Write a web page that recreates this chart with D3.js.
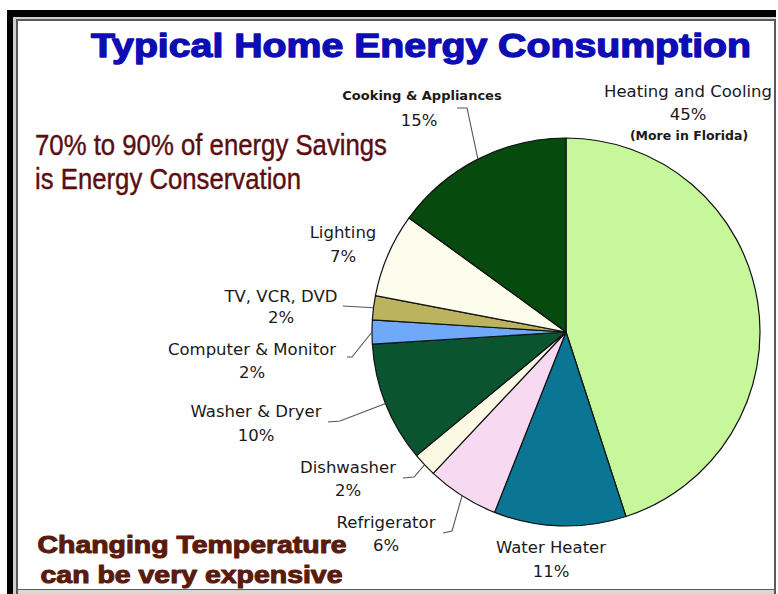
<!DOCTYPE html>
<html><head><meta charset="utf-8">
<script src="https://cdn.jsdelivr.net/npm/d3@7"></script>
<style>html,body{margin:0;padding:0;background:#fff;}svg{display:block;}</style>
</head><body>
<svg id="chart" width="778" height="594"></svg>
<script>
// ---- data ----
const categories = ["Heating and Cooling","Water Heater","Refrigerator","Dishwasher","Washer & Dryer","Computer & Monitor","TV, VCR, DVD","Lighting","Cooking & Appliances"];
const values = [45, 11, 6, 2, 10, 2, 2, 7, 15];
const percentLabels = ["45%","11%","6%","2%","10%","2%","2%","7%","15%"];
const colors = ["#c6f79a","#0b7594","#f8d9f2","#fbf9e4","#0a5430","#6fa9f7","#bcb35e","#fdfdee","#064a0e"];
const titleText = "Typical Home Energy Consumption";
const noteLines = ["70% to 90% of energy Savings","is Energy Conservation"];
const footLines = ["Changing Temperature","can be very expensive"];
const heatingNote = "(More in Florida)";

// ---- layout (positions, not data) ----
const cx = 566, cy = 332, R = 194;
const layout = {
  "Heating and Cooling": {x:688, y1:97, y2:120, bold:false, leader:null},
  "Water Heater": {x:551, y1:553, y2:577, leader:null},
  "Refrigerator": {x:386, y1:528, y2:551, leader:[[443,533],[452,531]]},
  "Dishwasher": {x:348, y1:473, y2:496, leader:[[403,478],[414,477]]},
  "Washer & Dryer": {x:256, y1:417, y2:441, leader:[[328,422],[340,421]]},
  "Computer & Monitor": {x:252, y1:355, y2:378, leader:[[347,357],[352,357]]},
  "TV, VCR, DVD": {x:281, y1:302, y2:323, leader:[[343,306]]},
  "Lighting": {x:343, y1:238, y2:262, leader:null},
  "Cooking & Appliances": {x:422, y1:100, y2:126, bold:true, pctX:419, leader:[[457,108],[467,108]]}
};

const svg = d3.select("#chart");

// frame
svg.append("rect").attr("x",7).attr("y",10).attr("width",769).attr("height",584).attr("fill","#000");
svg.append("rect").attr("x",13).attr("y",17).attr("width",763).attr("height",577).attr("fill","#cfcfcf");
svg.append("rect").attr("x",16).attr("y",19).attr("width",760).attr("height",575).attr("fill","#5a5a5a");
svg.append("rect").attr("x",18).attr("y",21).attr("width",756).attr("height",568).attr("fill","#fff");
svg.append("rect").attr("x",18).attr("y",590).attr("width",756).attr("height",4).attr("fill","#d8d8d8");

// title
svg.append("text").attr("x",421).attr("y",57).attr("text-anchor","middle")
  .attr("font-family","'Liberation Sans', Arial, sans-serif").attr("font-weight","bold")
  .attr("font-size",33).attr("fill","#0d0db4")
  .attr("stroke","#0d0db4").attr("stroke-width",1.3).attr("stroke-linejoin","round")
  .attr("textLength",660).attr("lengthAdjust","spacingAndGlyphs")
  .text(titleText);

// left note
const noteY = [155,189], noteW = [352,266];
noteLines.forEach((t,i)=>{
  svg.append("text").attr("x",35).attr("y",noteY[i])
    .attr("font-family","'Liberation Sans Narrow','Liberation Sans', Arial, sans-serif")
    .attr("font-size",29).attr("fill","#5a0e10")
    .attr("stroke","#5a0e10").attr("stroke-width",0.4)
    .attr("textLength",noteW[i]).attr("lengthAdjust","spacingAndGlyphs")
    .text(t);
});

// footer
const footY = [553,583], footX=[37,40], footW=[309,302];
footLines.forEach((t,i)=>{
  svg.append("text").attr("x",footX[i]+0.5).attr("y",footY[i])
    .attr("font-family","'Liberation Sans', Arial, sans-serif").attr("font-weight","bold")
    .attr("font-size",23).attr("fill","#5a1a0c")
    .attr("stroke","#5a1a0c").attr("stroke-width",1).attr("stroke-linejoin","round")
    .attr("textLength",footW[i]).attr("lengthAdjust","spacingAndGlyphs")
    .text(t);
});

// pie
const pie = d3.pie().sort(null).value(d=>d.value).startAngle(0).endAngle(2*Math.PI);
const data = categories.map((c,i)=>({name:c, value:values[i], pct:percentLabels[i], color:colors[i]}));
const arcs = pie(data);
const arc = d3.arc().innerRadius(0).outerRadius(R);
const g = svg.append("g").attr("transform",`translate(${cx},${cy})`);
g.selectAll("path").data(arcs).join("path")
  .attr("d",arc).attr("fill",d=>d.data.color)
  .attr("stroke","#111").attr("stroke-width",1.2).attr("stroke-linejoin","round");

// labels and leaders
const line = d3.line();
arcs.forEach(a=>{
  const L = layout[a.data.name];
  const mid = (a.startAngle + a.endAngle)/2;
  const edge = [cx + R*Math.sin(mid), cy - R*Math.cos(mid)];
  if (L.leader) {
    const pts = L.leader.concat([edge]);
    svg.append("path").attr("d",line(pts)).attr("fill","none")
      .attr("stroke","#555").attr("stroke-width",1.1);
  }
  const fam = "'DejaVu Sans', Verdana, sans-serif";
  svg.append("text").attr("x",L.x).attr("y",L.y1).attr("text-anchor","middle")
    .attr("font-family",fam).attr("font-size",L.bold?13:16.5)
    .attr("font-weight",L.bold?"bold":"normal").attr("fill","#1a1a1a")
    .text(a.data.name);
  svg.append("text").attr("x",L.pctX||L.x).attr("y",L.y2).attr("text-anchor","middle")
    .attr("font-family",fam).attr("font-size",16.5).attr("fill","#1a1a1a")
    .text(a.data.pct);
  if (a.data.name === "Heating and Cooling") {
    svg.append("text").attr("x",689).attr("y",140).attr("text-anchor","middle")
      .attr("font-family",fam).attr("font-size",12.5).attr("font-weight","bold").attr("fill","#1a1a1a")
      .text(heatingNote);
  }
});
</script>
</body></html>
